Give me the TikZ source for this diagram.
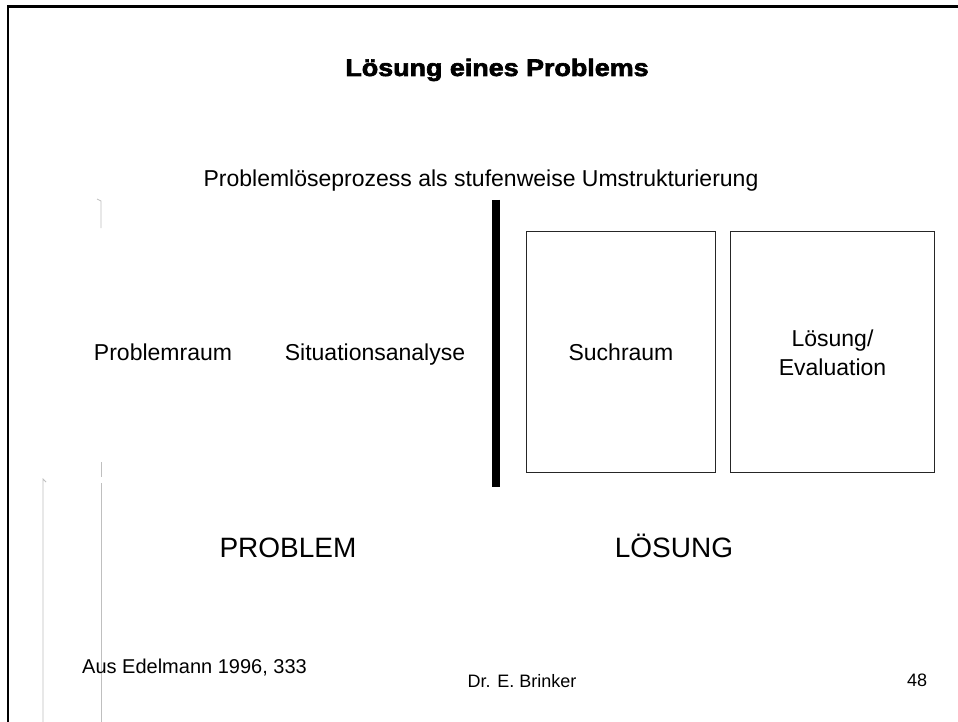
\documentclass[tikz,border=0pt]{standalone}
\usepackage{fontspec}
\setmainfont{Liberation Sans}
\newfontfamily\heavyfont[FakeBold=2.5]{Liberation Sans Bold}
\usepackage{graphicx}
\begin{document}
\begin{tikzpicture}[x=1pt,y=-1pt,
  txt/.style={inner sep=0pt,anchor=base,font=\fontsize{23}{27}\selectfont},
  bigtxt/.style={inner sep=0pt,anchor=base,font=\fontsize{28}{32}\selectfont},
  foot/.style={inner sep=0pt,anchor=base,font=\fontsize{18}{21}\selectfont},
  box/.style={draw=black!85,line width=1pt,inner sep=0pt,anchor=north west},
  guide/.style={draw=black!25,line width=0.8pt}]
\useasboundingbox (0,0) rectangle (958,722);
\fill[white] (0,0) rectangle (958,722);
% frame
\coordinate (fbl) at (8,722);
\coordinate (ftl) at (8,6.5);
\coordinate (ftr) at (958,6.5);
\draw[line width=2.6pt] (fbl) -- (ftl) -- (ftr);
% faint guide lines
\coordinate (g1t) at (97,199);
\coordinate (g1a) at (101,201);
\coordinate (g1b) at (101,228);
\draw[guide] (g1t) -- (g1a) -- (g1b);
\coordinate (g2a) at (101,462);
\coordinate (g2b) at (101,477);
\draw[guide] (g2a) -- (g2b);
\coordinate (g3a) at (101,483);
\coordinate (g3b) at (101,722);
\draw[guide] (g3a) -- (g3b);
\coordinate (g4t) at (46,482);
\coordinate (g4a) at (43,479);
\coordinate (g4b) at (43,722);
\draw[guide] (g4t) -- (g4a) -- (g4b);
% title
\node[inner sep=0pt,anchor=base] (title) at (497,76)
  {\scalebox{1.12}[1]{\heavyfont\fontsize{24}{28}\selectfont Lösung eines Problems}};
\node[txt] (sub) at (481,187) {Problemlöseprozess als stufenweise Umstrukturierung};
% divider
\coordinate (dtop) at (496,200);
\coordinate (dbot) at (496,487);
\draw[line width=8pt] (dtop) -- (dbot);
% left labels
\node[txt] (praum) at (163,360) {Problemraum};
\node[txt] (sit) at (375,360) {Situationsanalyse};
% boxes
\node[box,minimum width=189pt,minimum height=241pt] (such) at (526,231) {};
\node[box,minimum width=204pt,minimum height=241pt] (loes) at (730,231) {};
\node[txt] (suchtxt) at (such.center |- 0,360) {Suchraum};
\node[txt] (loes1) at (loes.center |- 0,346) {Lösung/};
\node[txt] (loes2) at (loes.center |- 0,375) {Evaluation};
% big labels
\node[bigtxt] (prob) at (288,557) {PROBLEM};
\node[bigtxt] (lsg) at (674,557) {LÖSUNG};
% footer
\node[foot,anchor=base west,font=\fontsize{20}{23}\selectfont] (src) at (82,673) {Aus Edelmann 1996, 333};
\node[foot] (auth) at (522,687) {Dr. E. Brinker};
\node[foot] (page) at (917,686) {48};
\end{tikzpicture}
\end{document}
